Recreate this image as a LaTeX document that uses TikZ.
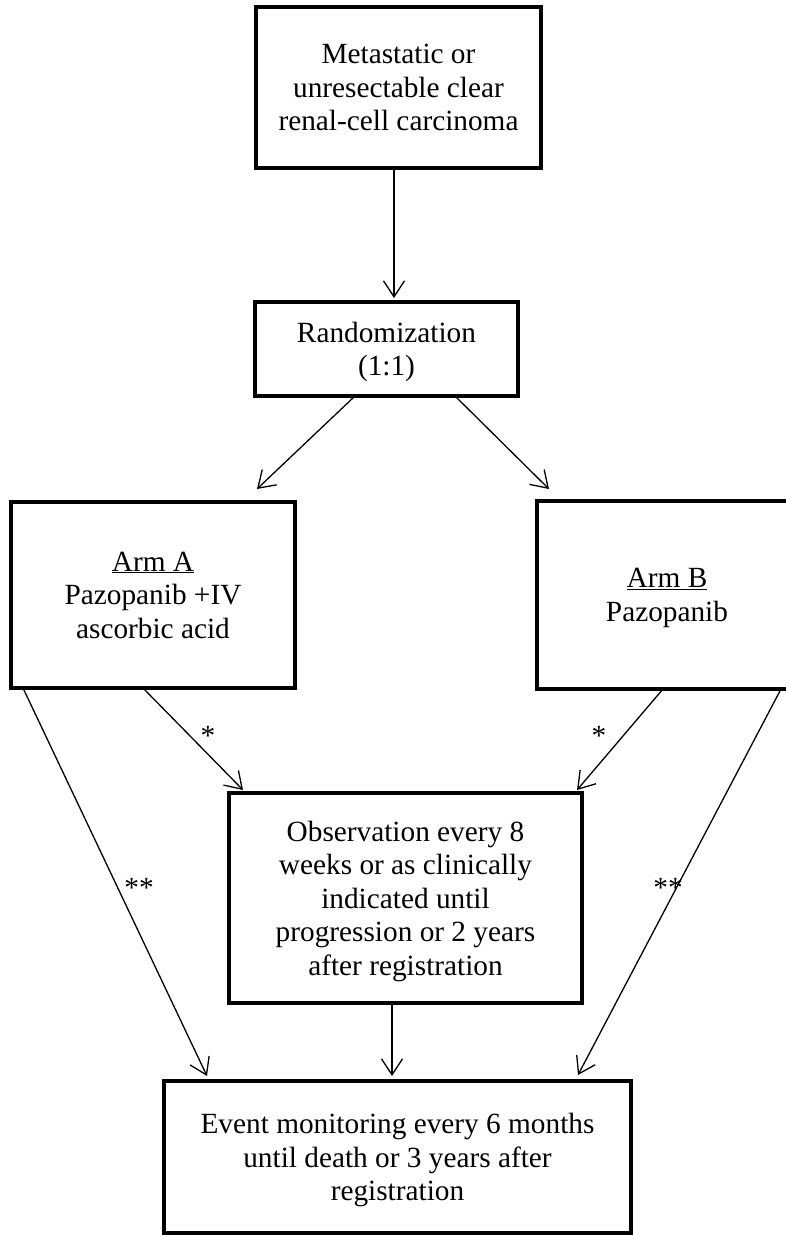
\documentclass[tikz,border=0pt]{standalone}
\usepackage{fontspec}
\setmainfont{Liberation Serif}
\usetikzlibrary{arrows.meta}
\begin{document}
\begin{tikzpicture}[x=1pt,y=-1pt,
  box/.style={draw=black, line width=3.2pt, inner sep=0pt, outer sep=0pt, align=center,
    font=\fontsize{29.3}{33.5}\selectfont, text depth=0pt},
  conn/.style={line width=1.3pt, -{Straight Barb[length=16pt,width=21pt,line width=1.3pt]}},
  lbl/.style={inner sep=0pt, anchor=base, font=\fontsize{29.3}{33.5}\selectfont}]
\useasboundingbox (0,0) rectangle (786,1235);
\fill[white] (0,0) rectangle (786,1235);

\node[box, minimum width=285pt, minimum height=161pt] (top) at (398.5,87.5)
  {Metastatic or\\unresectable clear\\renal-cell carcinoma};
\node[box, minimum width=263pt, minimum height=94pt] (rand) at (386.5,349)
  {Randomization\\(1:1)};
\node[box, minimum width=284pt, minimum height=186pt] (armA) at (153,595)
  {\underline{Arm A}\\Pazopanib +IV\\ascorbic acid};
\node[box, minimum width=260pt, minimum height=188pt] (armB) at (667,595)
  {\underline{Arm B}\\Pazopanib};
\node[box, minimum width=353pt, minimum height=210pt] (obs) at (405.5,898)
  {Observation every 8\\weeks or as clinically\\indicated until\\progression or 2 years\\after registration};
\node[box, minimum width=467pt, minimum height=152pt] (event) at (397.5,1157)
  {Event monitoring every 6 months\\until death or 3 years after\\registration};

\draw[conn] ([xshift=-4.5pt]top.south) -- ([xshift=7.5pt,yshift=4pt]rand.north);
\draw[conn] ([xshift=-31.5pt]rand.south) -- ([xshift=104pt,yshift=13pt]armA.north);
\draw[conn] ([xshift=68.5pt]rand.south) -- ([xshift=-118pt,yshift=12pt]armB.north);
\draw[conn] ([xshift=-10pt]armA.south) -- ([xshift=-162.5pt,yshift=3pt]obs.north);
\draw[conn] ([xshift=-4pt]armB.south) -- ([xshift=171.5pt,yshift=3pt]obs.north);
\draw[conn] ([xshift=-130pt]armA.south) -- ([xshift=-190.5pt,yshift=5pt]event.north);
\draw[conn] ([xshift=114pt]armB.south) -- ([xshift=180.5pt,yshift=6pt]event.north);
\draw[conn] ([xshift=-13.5pt]obs.south) -- ([xshift=-5.5pt,yshift=5pt]event.north);

\node[lbl] (s1) at (208,745) {*};
\node[lbl] (s2) at (599,745) {*};
\node[lbl] (s3) at (139,897) {**};
\node[lbl] (s4) at (668,897) {**};
\end{tikzpicture}
\end{document}
